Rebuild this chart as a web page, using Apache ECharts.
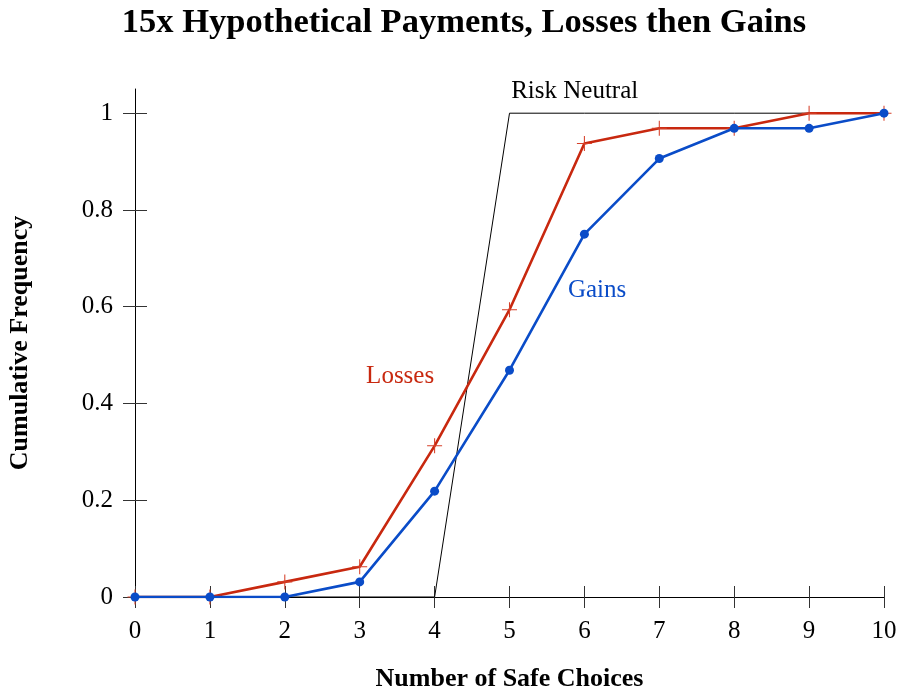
<!DOCTYPE html>
<html>
<head>
<meta charset="utf-8">
<script src="https://cdn.jsdelivr.net/npm/echarts@6/dist/echarts.min.js"></script>
<style>html,body{margin:0;padding:0;background:#fff}#chart{width:901px;height:694px}</style>
</head>
<body>
<div id="chart"></div>
<script>
var safeChoices = [0, 1, 2, 3, 4, 5, 6, 7, 8, 9, 10];
var losses = [0, 0, 0.03125, 0.0625, 0.3125, 0.59375, 0.9375, 0.96875, 0.96875, 1, 1];
var gains = [0, 0, 0, 0.03125, 0.21875, 0.46875, 0.75, 0.90625, 0.96875, 0.96875, 1];
var riskNeutral = [0, 0, 0, 0, 0, 1, 1, 1, 1, 1, 1];
var yTicks = [0, 0.2, 0.4, 0.6, 0.8, 1];

function pairs(xs, ys) { return xs.map(function (x, i) { return [x, ys[i]]; }); }

var FONT = '"Liberation Serif", "DejaVu Serif", serif';
var RED = '#c8280f', BLUE = '#0a4cc8';
var plus = 'path://M4.65,0H5.35V4.65H10V5.35H5.35V10H4.65V5.35H0V4.65H4.65Z';

var chart = echarts.init(document.getElementById('chart'));
var axisCommon = {
  type: 'value', min: 0, max: 10, interval: 1,
  axisLine: { show: true, lineStyle: { color: '#000', width: 1 } },
  splitLine: { show: false }
};
chart.setOption({
  animation: false,
  backgroundColor: '#fff',
  title: {
    text: '15x Hypothetical Payments, Losses then Gains',
    left: 459, top: 1, textAlign: 'center',
    textStyle: { fontFamily: FONT, fontWeight: 'bold', fontSize: 34.5, color: '#000' }
  },
  grid: { left: 135, right: 17, top: 89, bottom: 97, containLabel: false, outerBoundsMode: 'none' },
  xAxis: [
    Object.assign({}, axisCommon, {
      name: 'Number of Safe Choices', nameLocation: 'middle', nameGap: 69,
      nameTextStyle: { fontFamily: FONT, fontWeight: 'bold', fontSize: 26, color: '#000' },
      axisTick: { show: true, length: 11, inside: false, lineStyle: { color: '#333' } },
      axisLabel: { margin: 22, fontFamily: FONT, fontSize: 25, color: '#000' }
    }),
    Object.assign({}, axisCommon, {
      position: 'bottom',
      axisTick: { show: true, length: 11, inside: true, lineStyle: { color: '#333' } },
      axisLabel: { show: false }
    })
  ],
  yAxis: [
    {
      type: 'value', min: 0, max: 1.05, interval: 0.2,
      name: 'Cumulative Frequency', nameLocation: 'middle', nameGap: 102,
      nameTextStyle: { fontFamily: FONT, fontWeight: 'bold', fontSize: 26, color: '#000' },
      axisLine: { show: true, lineStyle: { color: '#000', width: 1 } },
      axisTick: { show: true, length: 12, inside: false, lineStyle: { color: '#333' },
        customValues: yTicks },
      axisLabel: { margin: 22, fontFamily: FONT, fontSize: 25, color: '#000',
        customValues: yTicks,
        formatter: function (v) { return String(Math.round(v * 10) / 10); } },
      splitLine: { show: false }
    },
    {
      type: 'value', min: 0, max: 1.05, interval: 0.2, position: 'left',
      axisLine: { show: false },
      axisTick: { show: true, length: 12, inside: true, lineStyle: { color: '#333' },
        customValues: yTicks },
      axisLabel: { show: false },
      splitLine: { show: false }
    }
  ],
  series: [
    {
      name: 'Risk Neutral', type: 'line', data: pairs(safeChoices, riskNeutral),
      symbol: 'none', lineStyle: { color: '#000', width: 1 }, z: 3,
      markPoint: {
        symbol: 'circle', symbolSize: 0,
        label: { show: true, formatter: 'Risk Neutral', fontFamily: FONT, fontSize: 25, color: '#000' },
        data: [{ coord: [5.87, 1.045] }]
      }
    },
    {
      name: 'Losses', type: 'line', data: pairs(safeChoices, losses),
      symbol: plus, symbolSize: 15, showAllSymbol: true,
      itemStyle: { color: '#d6402a' },
      lineStyle: { color: RED, width: 2.6 }, z: 4,
      markPoint: {
        symbol: 'circle', symbolSize: 0,
        label: { show: true, formatter: 'Losses', fontFamily: FONT, fontSize: 25, color: RED },
        data: [{ coord: [3.54, 0.455] }]
      }
    },
    {
      name: 'Gains', type: 'line', data: pairs(safeChoices, gains),
      symbol: 'circle', symbolSize: 9, showAllSymbol: true,
      itemStyle: { color: BLUE },
      lineStyle: { color: BLUE, width: 2.6 }, z: 5,
      markPoint: {
        symbol: 'circle', symbolSize: 0,
        label: { show: true, formatter: 'Gains', fontFamily: FONT, fontSize: 25, color: BLUE },
        data: [{ coord: [6.17, 0.634] }]
      }
    }
  ]
});
</script>
</body>
</html>
